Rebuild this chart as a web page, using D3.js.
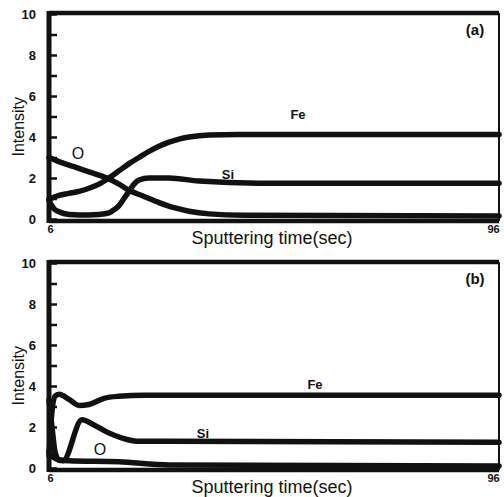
<!DOCTYPE html>
<meta charset="utf-8">
<style>
body { margin: 0; background: #fff; }
.trace { fill: none; stroke: #111; stroke-width: 5.5px; stroke-linejoin: round; stroke-linecap: round; }
.frame { fill: none; stroke: #111; }
text { font-family: "Liberation Sans", Arial, sans-serif; fill: #111; }
</style>
<body>
<script src="https://d3js.org/d3.v7.min.js"></script>
<script>

// panel (a) series: [time, intensity]
var feA = [[6,0.95],[8,1.15],[10,1.25],[12,1.35],[14,1.5],[16,1.7],[18,2.0],[20,2.35],[22,2.7],[24,3.0],[26,3.3],[28,3.55],[30,3.75],[32,3.9],[34,4.0],[38,4.1],[44,4.12],[60,4.12],[96,4.12]];
var siA = [[6,0.9],[7,0.5],[8,0.35],[10,0.22],[12,0.2],[14,0.2],[16,0.22],[18,0.3],[19,0.45],[20,0.65],[21,1.0],[22,1.35],[23,1.7],[24,1.9],[26,2.0],[30,2.0],[36,1.85],[48,1.75],[96,1.75]];
var oA  = [[6,3.0],[8,2.8],[11,2.55],[14,2.3],[17.6,2.0],[20,1.7],[22,1.4],[25,1.1],[28,0.8],[31,0.55],[34,0.38],[38,0.25],[45,0.18],[96,0.15]];

// panel (b) series
var feB = [[6,0.6],[6.5,2.5],[7.2,3.5],[8,3.6],[10,3.35],[12,3.05],[14,3.1],[17,3.4],[20,3.5],[25,3.55],[96,3.55]];
var siB = [[6,0.8],[7,0.5],[8.8,0.35],[12.6,2.35],[15,2.1],[17.6,1.75],[20.8,1.45],[24.2,1.3],[30,1.3],[96,1.25]];
var oB  = [[6,3.3],[6.6,2.0],[7.2,0.8],[8,0.4],[10,0.35],[20,0.3],[30,0.15],[96,0.1]];

var yTicks = [0,1,2,3,4,5,6,7,8,9,10];
var xTicks = [6, 96];

var svg = d3.select("body").append("svg")
    .attr("width", 504)
    .attr("height", 497);

var x = d3.scaleLinear().domain([6, 96]).range([49, 499]);

function panel(top, bottom, data, labels, tag) {
  var y = d3.scaleLinear().domain([0, 10]).range([bottom, top]);
  var g = svg.append("g");

  // frame
  g.append("line").attr("class", "frame").attr("x1", 49).attr("x2", 499)
      .attr("y1", top - 1).attr("y2", top - 1).attr("stroke-width", 4.5);
  g.append("line").attr("class", "frame").attr("x1", 49).attr("x2", 499)
      .attr("y1", bottom + 2).attr("y2", bottom + 2).attr("stroke-width", 4.5);
  g.append("line").attr("class", "frame").attr("x1", 499).attr("x2", 499)
      .attr("y1", top - 1).attr("y2", bottom + 2).attr("stroke-width", 2);

  // y axis, ticks pointing inward
  var ya = g.append("g")
      .attr("transform", "translate(49,0)")
      .call(d3.axisLeft(y).tickValues(yTicks).tickSize(-8).tickPadding(13)
        .tickFormat(function(d) { return d % 2 === 0 ? d : ""; }));
  ya.select(".domain").attr("stroke", "#111").attr("stroke-width", 5)
      .attr("d", "M0," + (top - 3) + "V" + (bottom + 4));
  ya.selectAll(".tick line").attr("stroke", "#111").attr("stroke-width", 2.5);
  ya.selectAll(".tick text").attr("font-size", 13).attr("font-weight", "bold")
      .attr("font-family", "Liberation Sans, Arial, sans-serif").attr("fill", "#111");

  // x axis: only end labels
  var xa = g.append("g")
      .attr("transform", "translate(0," + (bottom + 3) + ")")
      .call(d3.axisBottom(x).tickValues(xTicks).tickSize(0).tickPadding(3));
  xa.select(".domain").remove();
  xa.selectAll(".tick text").attr("font-size", 11).attr("font-weight", "bold")
      .attr("font-family", "Liberation Sans, Arial, sans-serif").attr("fill", "#111")
      .attr("dx", function(d) { return d === 96 ? -6 : 1; });

  var line = d3.line()
      .x(function(d) { return x(d[0]); })
      .y(function(d) { return y(d[1]); })
      .curve(d3.curveMonotoneX);

  data.forEach(function(s) {
    g.append("path").datum(s).attr("class", "trace").attr("d", line);
  });

  labels.forEach(function(l) {
    g.append("text").attr("x", x(l.t)).attr("y", y(l.v))
        .attr("text-anchor", "middle").attr("dy", "0.35em")
        .attr("font-size", l.size || 13).attr("font-weight", l.bold ? "bold" : "normal")
        .text(l.text);
  });

  g.append("text").attr("x", 272).attr("y", top + 21).attr("text-anchor", "middle")
      .attr("x", 475).attr("font-size", 15).attr("font-weight", "bold").text(tag);

  g.append("text").attr("x", 272).attr("y", bottom + 25).attr("text-anchor", "middle")
      .attr("font-size", 18).text("Sputtering time(sec)");

  g.append("text").attr("transform", "translate(24," + (y(4.5)) + ") rotate(-90)")
      .attr("text-anchor", "middle").attr("font-size", 16).text("Intensity");
}

panel(14, 219, [feA, siA, oA], [
  {text: "Fe", t: 55.8, v: 5.1, bold: true},
  {text: "Si", t: 41.8, v: 2.15, bold: true},
  {text: "O", t: 11.8, v: 3.2, size: 16}
], "(a)");

panel(263, 468, [feB, siB, oB], [
  {text: "Fe", t: 59.2, v: 4.1, bold: true},
  {text: "Si", t: 36.8, v: 1.7, bold: true},
  {text: "O", t: 16.2, v: 0.9, size: 16}
], "(b)");

</script>
</body>
